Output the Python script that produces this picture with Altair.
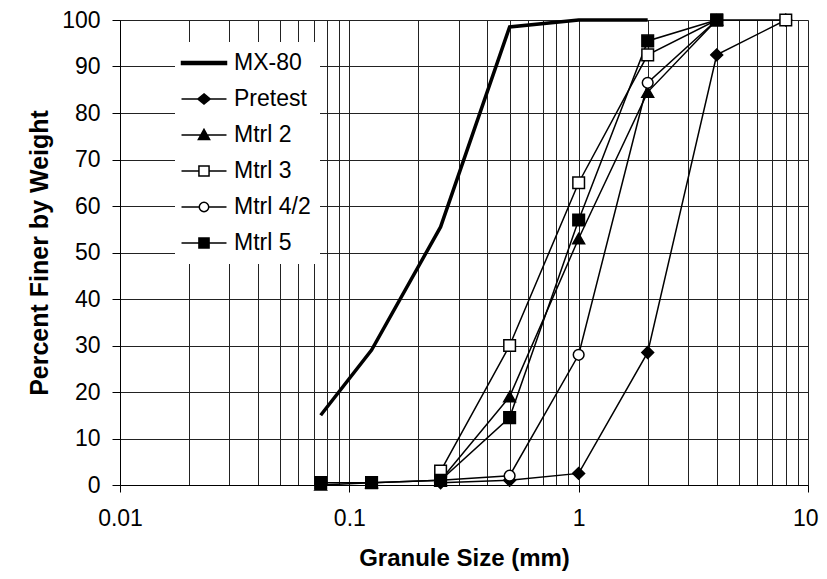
import altair as alt
import pandas as pd

# ---- data ----
sizes_mm = [0.075, 0.125, 0.25, 0.5, 1, 2, 4, 8]
series_names = ["MX-80", "Pretest", "Mtrl 2", "Mtrl 3", "Mtrl 4/2", "Mtrl 5"]
mx80 = [15, 29, 55.5, 98.5, 100, 100, None, None]
pretest = [None, None, 0.5, 1, 2.5, 28.5, 92.5, 100]
mtrl2 = [0, 0.5, 1, 19, 53, 84.5, 100, None]
mtrl3 = [None, None, 3, 30, 65, 92.5, 100, 100]
mtrl42 = [None, None, 1, 2, 28, 86.5, 100, None]
mtrl5 = [0.5, 0.5, 1, 14.5, 57, 95.5, 100, None]
y_ticks = [0, 10, 20, 30, 40, 50, 60, 70, 80, 90, 100]
x_grid = [round(d * 10 ** e, 4) for e in (-2, -1, 0) for d in range(1, 10)] + [10]

values = [mx80, pretest, mtrl2, mtrl3, mtrl42, mtrl5]
rows = []
for name, vals in zip(series_names, values):
    for s, v in zip(sizes_mm, vals):
        if v is not None:
            rows.append({"series": name, "size": s, "pct": v})
df = pd.DataFrame(rows)
legend_df = df.groupby("series", as_index=False).first()

FONT = "Liberation Sans"
DECADE = "abs(log(datum.value)/LN10 - round(log(datum.value)/LN10)) < 0.001"
LAST = "datum.value >= 9.99"

x_axis = alt.Axis(
    values=x_grid, grid=True, gridColor="#222", gridWidth=1,
    tickSize=7, tickColor="black",
    tickOpacity={"condition": {"test": DECADE, "value": 1}, "value": 0},
    labelExpr=f"{DECADE} ? format(datum.value, '~g') : ''",
    labelAlign={"condition": {"test": LAST, "value": "right"}, "value": "center"},
    labelOffset={"condition": {"test": LAST, "value": 10}, "value": 0},
    labelFont=FONT, labelFontSize=23, labelColor="black", labelPadding=15,
    labelFlush=False, labelOverlap=False,
    domainColor="black", title="Granule Size (mm)", titleFont=FONT,
    titleFontSize=24, titleFontWeight="bold", titleColor="black", titlePadding=16,
)
y_axis = alt.Axis(
    values=y_ticks, grid=True, gridColor="#222", gridWidth=1,
    tickSize=8, tickColor="black", labelFont=FONT, labelFontSize=23,
    labelColor="black", labelPadding=12, domainColor="black",
    title="Percent Finer by Weight", titleFont=FONT, titleFontSize=25,
    titleFontWeight="bold", titleColor="black", titlePadding=9,
)

base = alt.Chart(df).encode(
    x=alt.X("size:Q", scale=alt.Scale(type="log", domain=[0.01, 10]), axis=x_axis),
    y=alt.Y("pct:Q", scale=alt.Scale(domain=[0, 100]), axis=y_axis),
)

mx_line = base.transform_filter(alt.datum.series == "MX-80").mark_line(
    color="black", strokeWidth=3.5)
other_lines = base.transform_filter(alt.datum.series != "MX-80").mark_line(
    color="black", strokeWidth=1.5).encode(detail="series:N", order="size:Q")

marker_specs = [
    ("Pretest", "diamond", "black", 140),
    ("Mtrl 2", "triangle-up", "black", 140),
    ("Mtrl 3", "square", "white", 135),
    ("Mtrl 4/2", "circle", "white", 115),
    ("Mtrl 5", "square", "black", 135),
]
marker_layers = [
    base.transform_filter(alt.datum.series == name).mark_point(
        shape=shp, filled=True, fill=fc, stroke="black", strokeWidth=1.5,
        size=sz, opacity=1)
    for name, shp, fc, sz in marker_specs
]

# legend symbols: line with marker (custom paths)
legend_paths = [
    "M-2,-0.13H2V0.13H-2Z",
    "M-2,0H2M0,-0.45L0.55,0L0,0.45L-0.55,0Z",
    "M-2,0H2M0,-0.5L0.5,0.4L-0.5,0.4Z",
    "M-2,0H-0.45M0.45,0H2M-0.45,-0.45H0.45V0.45H-0.45Z",
    "M-2,0H-0.42M0.42,0H2M-0.42,0A0.42,0.42,0,1,1,0.42,0A0.42,0.42,0,1,1,-0.42,0Z",
    "M-2,0H2M-0.45,-0.45H0.45V0.45H-0.45Z",
]
legend_fills = ["black", "black", "black", "white", "white", "black"]
legend_strokes = ["black"] * 6
leg = alt.Legend(
    orient="none", legendX=55, legendY=22, title=None, fillColor="white",
    padding=9, symbolSize=506, symbolStrokeColor="black", symbolStrokeWidth=1.5,
    symbolOpacity=1, symbolOffset=8, labelOffset=18, rowPadding=12,
    labelFont=FONT, labelFontSize=23, labelColor="black", labelLimit=200,
)
legend_layer = alt.Chart(legend_df).mark_point(opacity=0, filled=True).encode(
    x=alt.X("size:Q"), y=alt.Y("pct:Q"),
    shape=alt.Shape("series:N", scale=alt.Scale(domain=series_names, range=legend_paths), legend=leg),
    fill=alt.Fill("series:N", scale=alt.Scale(domain=series_names, range=legend_fills), legend=leg),
    stroke=alt.Stroke("series:N", scale=alt.Scale(domain=series_names, range=legend_strokes), legend=leg),
)

chart = alt.layer(mx_line, other_lines, *marker_layers, legend_layer).properties(
    width=688, height=465,
    autosize=alt.AutoSizeParams(type="none"),
    padding={"left": 112, "top": 12, "right": 11, "bottom": 86},
).configure_view(stroke="black", strokeWidth=1).configure(background="white")

chart.save("out.html", embed_options={"renderer": "svg", "actions": False})
